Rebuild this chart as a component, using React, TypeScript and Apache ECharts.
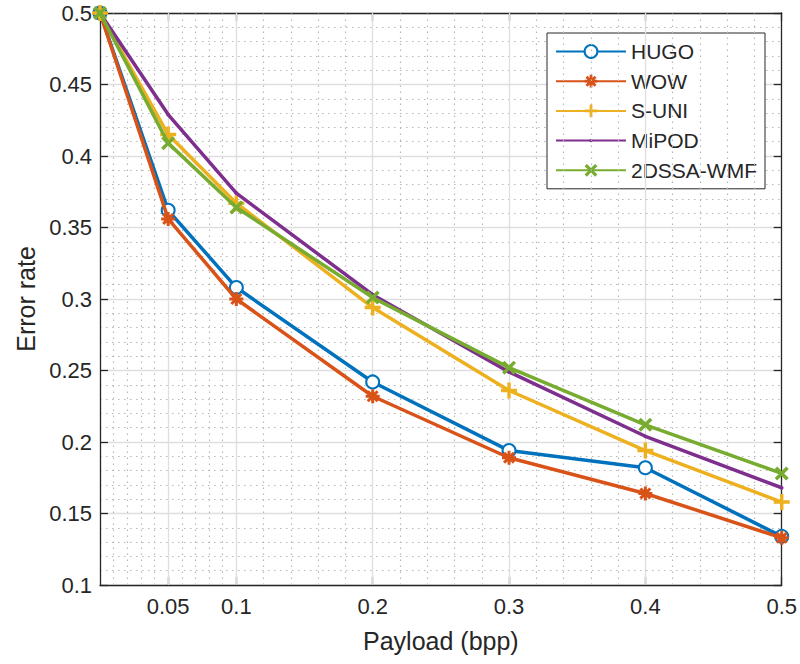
import React, { useEffect, useRef } from "react";
import * as echarts from "echarts";

// ---- data ----
const payload = [0, 0.05, 0.1, 0.2, 0.3, 0.4, 0.5];
const hugo = [0.5, 0.362, 0.308, 0.242, 0.194, 0.182, 0.134];
const wow = [0.5, 0.356, 0.3, 0.232, 0.189, 0.164, 0.133];
const suni = [0.5, 0.415, 0.367, 0.294, 0.236, 0.194, 0.158];
const mipod = [0.5, 0.429, 0.374, 0.303, 0.249, 0.204, 0.168];
const dssa = [0.5, 0.409, 0.364, 0.301, 0.252, 0.212, 0.178];

const seriesNames = ["HUGO", "WOW", "S-UNI", "MiPOD", "2DSSA-WMF"];
const seriesColors = ["#0072BD", "#D95319", "#EDB120", "#7E2F8E", "#77AC30"];

const xTickValues = [0.05, 0.1, 0.2, 0.3, 0.4, 0.5];
const xMajorGrid = [0.05, 0.1, 0.2, 0.3, 0.4];
const xMinorGrid = [
  0.01, 0.02, 0.03, 0.04, 0.06, 0.07, 0.08, 0.09, 0.12, 0.14, 0.16, 0.18, 0.22,
  0.24, 0.26, 0.28, 0.32, 0.34, 0.36, 0.38, 0.42, 0.44, 0.46, 0.48,
];

// ---- marker shapes ----
function rot(points: number[][], ang: number) {
  const c = 7;
  const ca = Math.cos(ang);
  const sa = Math.sin(ang);
  return points.map(([x, y]) => [
    c + (x - c) * ca - (y - c) * sa,
    c + (x - c) * sa + (y - c) * ca,
  ]);
}
function toPath(points: number[][]) {
  return (
    "M" +
    points.map(([x, y]) => `${x.toFixed(3)},${y.toFixed(3)}`).join("L") +
    "Z"
  );
}
const t = 1.5;
const plusPts = [
  [7 - t, 0], [7 + t, 0], [7 + t, 7 - t], [14, 7 - t], [14, 7 + t], [7 + t, 7 + t],
  [7 + t, 14], [7 - t, 14], [7 - t, 7 + t], [0, 7 + t], [0, 7 - t], [7 - t, 7 - t],
];
const plusPath = "path://" + toPath(plusPts);
const crossPath = "path://" + toPath(rot(plusPts, Math.PI / 4));
const starPath = "path://" + toPath(plusPts) + toPath(rot(plusPts, Math.PI / 4));
const dotPath = "path://M0,0M12,12M4.4,6a1.6,1.6 0 1,0 3.2,0a1.6,1.6 0 1,0 -3.2,0Z";

const FONT = "Liberation Sans, Arial, Helvetica, sans-serif";
const TXT = "#262626";

export default function App() {
  const ref = useRef<HTMLDivElement>(null);
  useEffect(() => {
    if (!ref.current) return;
    const chart = echarts.init(ref.current, undefined, { renderer: "svg" });
    const values = [hugo, wow, suni, mipod, dssa];
    const symbols = ["emptyCircle", starPath, plusPath, dotPath, crossPath];
    const sizes = [13, 14, 16, 14, 14];

    const lineSeries = seriesNames.map((name, k) => ({
      name,
      type: "line",
      data: payload.map((x, i) => [x, values[k][i]]),
      symbol: symbols[k],
      symbolSize: sizes[k],
      showSymbol: true,
      clip: false,
      z: 5 + k,
      lineStyle: { color: seriesColors[k], width: 3.5 },
      itemStyle:
        k === 0
          ? { color: seriesColors[k], borderColor: seriesColors[k], borderWidth: 3 }
          : { color: seriesColors[k] },
      emphasis: { disabled: true },
    }));

    const gridSeries = (vals: number[], style: any) => ({
      type: "line",
      data: [[0, 0.1]],
      symbol: "none",
      silent: true,
      z: 1,
      lineStyle: { width: 0, opacity: 0 },
      markLine: {
        silent: true,
        symbol: ["none", "none"],
        label: { show: false },
        emphasis: { disabled: true },
        lineStyle: style,
        data: vals.map((v) => ({ xAxis: v })),
      },
    });

    chart.setOption({
      animation: false,
      backgroundColor: "#fff",
      textStyle: { fontFamily: FONT },
      grid: { left: 100, right: 18, top: 13, bottom: 79, containLabel: false },
      legend: {
        data: seriesNames,
        orient: "vertical",
        left: 547,
        top: 33,
        itemWidth: 70,
        itemHeight: 16,
        itemGap: 8.7,
        padding: [8, 8, 8, 8],
        backgroundColor: "#fff",
        borderColor: TXT,
        borderWidth: 1,
        selectedMode: false,
        textStyle: { fontSize: 21, lineHeight: 20, color: TXT, fontFamily: FONT },
      },
      xAxis: [
        {
          type: "value",
          min: 0,
          max: 0.5,
          interval: 0.05,
          position: "bottom",
          name: "Payload (bpp)",
          nameLocation: "middle",
          nameGap: 43,
          nameTextStyle: { fontSize: 25, color: TXT, fontFamily: FONT },
          axisLine: { show: true, onZero: false, lineStyle: { color: TXT, width: 1.3 } },
          axisTick: {
            show: true,
            inside: true,
            length: 8,
            customValues: xTickValues,
            lineStyle: { color: TXT, width: 1.3 },
          },
          axisLabel: {
            customValues: xTickValues,
            fontSize: 22,
            color: TXT,
            margin: 10,
            fontFamily: FONT,
            formatter: (v: number) => String(Math.round(v * 100) / 100),
          },
          splitLine: { show: false },
        },
        {
          type: "value",
          min: 0,
          max: 0.5,
          interval: 0.05,
          position: "top",
          axisLine: { show: true, onZero: false, lineStyle: { color: TXT, width: 1.3 } },
          axisTick: {
            show: true,
            inside: true,
            length: 8,
            customValues: xTickValues,
            lineStyle: { color: TXT, width: 1.3 },
          },
          axisLabel: { show: false },
          splitLine: { show: false },
        },
      ],
      yAxis: [
        {
          type: "value",
          min: 0.1,
          max: 0.5,
          interval: 0.05,
          position: "left",
          name: "Error rate",
          nameLocation: "middle",
          nameGap: 56,
          nameTextStyle: { fontSize: 25, color: TXT, fontFamily: FONT },
          axisLine: { show: true, onZero: false, lineStyle: { color: TXT, width: 1.3 } },
          axisTick: { show: true, inside: true, length: 8, lineStyle: { color: TXT, width: 1.3 } },
          axisLabel: {
            fontSize: 22,
            color: TXT,
            margin: 8,
            fontFamily: FONT,
            formatter: (v: number) => String(Math.round(v * 100) / 100),
          },
          splitLine: { show: true, lineStyle: { color: "#dedede", width: 1.3 } },
          minorTick: { show: false, splitNumber: 5 },
          minorSplitLine: { show: true, lineStyle: { color: "#b8b8b8", width: 1.2, type: [1.5, 4.5] } },
        },
        {
          type: "value",
          min: 0.1,
          max: 0.5,
          interval: 0.05,
          position: "right",
          axisLine: { show: true, onZero: false, lineStyle: { color: TXT, width: 1.3 } },
          axisTick: { show: true, inside: true, length: 8, lineStyle: { color: TXT, width: 1.3 } },
          axisLabel: { show: false },
          splitLine: { show: false },
        },
      ],
      series: [
        gridSeries(xMinorGrid, { color: "#b8b8b8", width: 1.2, type: [1.5, 4.5] }),
        gridSeries(xMajorGrid, { color: "#dedede", width: 1.3, type: "solid" }),
        ...lineSeries,
      ],
    });
    return () => chart.dispose();
  }, []);

  return (
    <div
      ref={ref}
      style={{ position: "fixed", left: 0, top: 0, width: 800, height: 664, background: "#fff" }}
    />
  );
}
